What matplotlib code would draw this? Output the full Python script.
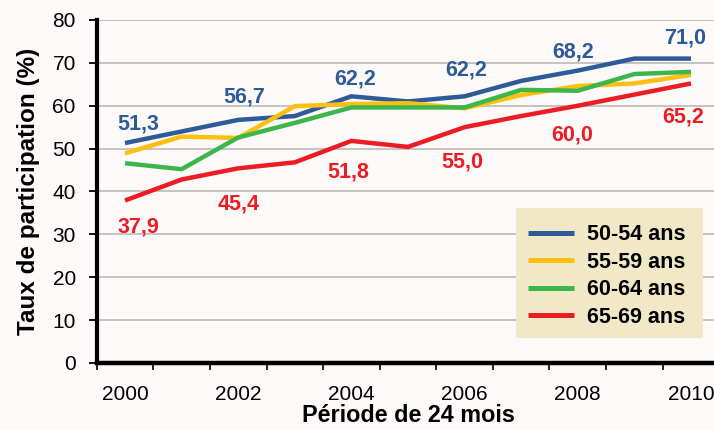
import matplotlib

matplotlib.use("Agg")
import matplotlib.pyplot as plt
from matplotlib.patches import Rectangle

plt.rcParams["font.family"] = ["Liberation Sans", "DejaVu Sans"]

years = ["2000", "2001", "2002", "2003", "2004", "2005",
         "2006", "2007", "2008", "2009", "2010"]
series_names = ["50-54 ans", "55-59 ans", "60-64 ans", "65-69 ans"]
v_50_54 = [51.3, 54.0, 56.7, 57.6, 62.2, 61.0, 62.2, 65.8, 68.2, 71.0, 71.0]
v_55_59 = [48.9, 52.8, 52.5, 59.9, 60.4, 60.6, 59.4, 62.5, 64.6, 65.2, 67.2]
v_60_64 = [46.6, 45.2, 52.6, 56.0, 59.6, 59.6, 59.6, 63.7, 63.5, 67.4, 67.9]
v_65_69 = [37.9, 42.8, 45.4, 46.8, 51.8, 50.4, 55.0, 57.6, 60.0, 62.6, 65.2]
labelled_years = [0, 2, 4, 6, 8, 10]

colors = ["#2d5b98", "#fdc010", "#3cb54a", "#ec1c24"]
BG = "#fcf9f8"

# label offsets from the point, in pixels (dx, dy)
blue_off = [(13, 19), (6, 23), (4, 17), (2, 26), (-5, 19), (-6, 21)]
red_off = [(13, -26), (0, -36), (-3, -31), (-2, -35), (-6, -29), (-8, -34)]

fig = plt.figure(figsize=(7.14, 4.30), dpi=100, facecolor=BG)
ax = fig.add_axes([96.7 / 714, 1 - 363 / 430, 622.6 / 714, 343 / 430])
ax.set_facecolor(BG)

x = list(range(len(years)))
handles = []
for vals, name, c in zip([v_50_54, v_55_59, v_60_64, v_65_69], series_names, colors):
    (ln,) = ax.plot(x, vals, color=c, lw=3.2, solid_joinstyle="miter",
                    solid_capstyle="butt", label=name, zorder=3)
    handles.append(ln)

def fmt(v):
    return f"{v:.1f}".replace(".", ",")

for i, (dx, dy) in zip(labelled_years, blue_off):
    ax.annotate(fmt(v_50_54[i]), (i, v_50_54[i]), xytext=(dx, dy),
                textcoords="offset pixels", ha="center", va="center",
                color=colors[0], fontsize=15.5, fontweight="bold", zorder=4)
for i, (dx, dy) in zip(labelled_years, red_off):
    ax.annotate(fmt(v_65_69[i]), (i, v_65_69[i]), xytext=(dx, dy),
                textcoords="offset pixels", ha="center", va="center",
                color=colors[3], fontsize=15.5, fontweight="bold", zorder=4)

ax.set_xlim(-0.5, len(years) - 0.5)
ax.set_ylim(0, 80)
ax.set_yticks(range(0, 81, 10))
ax.yaxis.grid(True, color="#b4b4b4", lw=1.1)
ax.set_axisbelow(True)

ax.set_xticks(labelled_years)
ax.set_xticklabels([years[i] for i in labelled_years])
ax.set_xticks([i - 0.5 for i in range(len(years) + 1)], minor=True)
ax.tick_params(axis="x", which="major", length=0, pad=16, labelsize=15)
ax.tick_params(axis="x", which="minor", length=5, width=1.2, direction="out")
ax.tick_params(axis="y", length=6, width=1.3, pad=9, labelsize=15)

for s in ["top", "right"]:
    ax.spines[s].set_visible(False)
ax.spines["left"].set_linewidth(3)
ax.spines["bottom"].set_linewidth(3.2)

ax.set_xlabel("Période de 24 mois", fontsize=16.8, fontweight="bold", labelpad=0)
ax.set_ylabel("Taux de participation (%)", fontsize=17.5, fontweight="bold",
              labelpad=9)

# legend box
x0 = (516 - 96.7) / 622.6
y0 = (363 - 338) / 343
ax.add_patch(Rectangle((x0, y0), 187 / 622.6, 130 / 343, transform=ax.transAxes,
                       facecolor="#f1e8c8", edgecolor="none", zorder=5))
leg = ax.legend(handles=handles, loc="upper left",
                bbox_to_anchor=(x0 + 6 / 622.6, (363 - 218) / 343),
                frameon=False, prop={"weight": "bold", "size": 15.5},
                handlelength=2.1, handletextpad=0.6, labelspacing=0.3,
                borderpad=0.3, borderaxespad=0)
leg.set_zorder(6)
for h in leg.get_lines():
    h.set_linewidth(3.6)

fig.savefig("out.png", dpi=100, facecolor=BG)
